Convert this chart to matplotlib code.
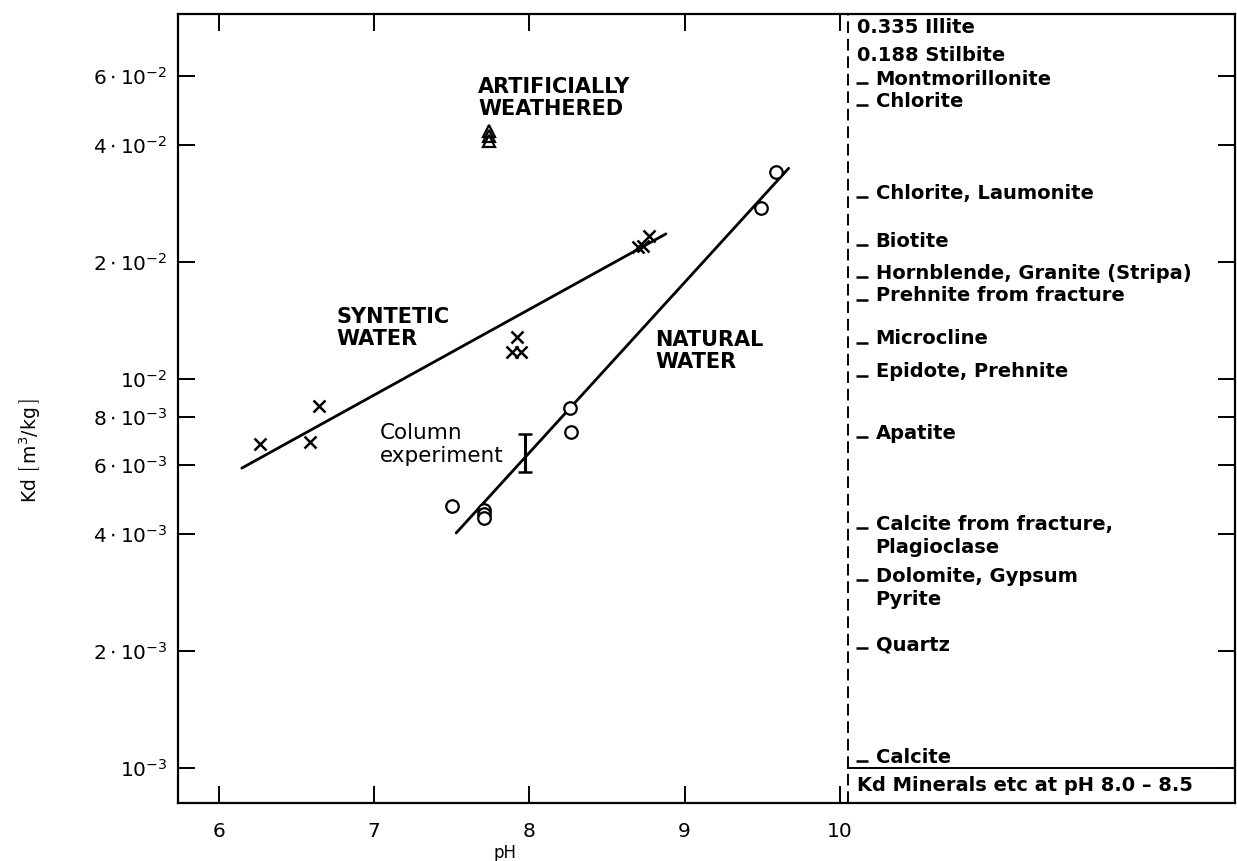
import numpy as np
import matplotlib
matplotlib.use("Agg")
from matplotlib import pyplot as plt

plt.rcParams["font.family"] = "DejaVu Sans"
plt.rcParams["mathtext.fontset"] = "dejavusans"

# Synthetic water (x markers)
syn_ph = [6.27, 6.59, 6.65, 7.92, 7.89, 7.95, 8.70, 8.73, 8.77]
syn_kd = [6.8e-3, 6.9e-3, 8.5e-3, 1.28e-2, 1.17e-2, 1.17e-2, 2.18e-2, 2.20e-2, 2.33e-2]
syn_fit_ph = [6.15, 8.88]
syn_fit_kd = [5.9e-3, 2.36e-2]

# Natural water (open circles)
nat_ph = [7.50, 7.71, 7.71, 7.71, 8.26, 8.27, 9.49, 9.59]
nat_kd = [4.72e-3, 4.6e-3, 4.5e-3, 4.4e-3, 8.4e-3, 7.3e-3, 2.75e-2, 3.40e-2]
nat_fit_ph = [7.53, 9.67]
nat_fit_kd = [4.02e-3, 3.48e-2]

# Artificially weathered (triangles)
art_ph = [7.74, 7.74, 7.74]
art_kd = [4.35e-2, 4.2e-2, 4.1e-2]

# Column experiment (range)
col_ph = 7.97
col_lo = 5.77e-3
col_hi = 7.23e-3

# Minerals at pH 8.0 - 8.5 (right panel)
mineral_names = ["Montmorillonite", "Chlorite", "Chlorite, Laumonite", "Biotite",
                 "Hornblende, Granite (Stripa)", "Prehnite from fracture",
                 "Microcline", "Epidote, Prehnite", "Apatite",
                 "Calcite from fracture,\nPlagioclase", "Dolomite, Gypsum\nPyrite",
                 "Quartz", "Calcite"]
mineral_kd = [0.0577, 0.0506, 0.0294, 0.0221, 0.0183, 0.0160, 0.0124, 0.0102,
              0.0071, 0.00414, 0.00304, 0.00203, 0.00104]
offchart_labels = ["0.335 Illite", "0.188 Stilbite"]

yticks = [1e-3, 2e-3, 4e-3, 6e-3, 8e-3, 1e-2, 2e-2, 4e-2, 6e-2]
ytick_labels = [r"$10^{-3}$", r"$2\cdot10^{-3}$", r"$4\cdot10^{-3}$", r"$6\cdot10^{-3}$",
                r"$8\cdot10^{-3}$", r"$10^{-2}$", r"$2\cdot10^{-2}$", r"$4\cdot10^{-2}$",
                r"$6\cdot10^{-2}$"]
xticks = [6, 7, 8, 9, 10]

PANEL_X = 10.05  # dashed separator


def main():
    fig = plt.figure(figsize=(12.37, 8.61), dpi=100)
    ax = fig.add_axes([0.144, 0.0674, 0.854, 0.9163])
    ax.set_yscale("log")
    ax.set_xlim(5.74, 12.54)
    ax.set_ylim(8.13e-4, 0.0867)

    # fits and data
    ax.plot(syn_fit_ph, syn_fit_kd, color="black", lw=2.0, solid_capstyle="round")
    ax.plot(nat_fit_ph, nat_fit_kd, color="black", lw=2.0, solid_capstyle="round")
    ax.plot(syn_ph, syn_kd, "x", color="black", ms=8, mew=1.8)
    ax.plot(nat_ph, nat_kd, "o", mfc="white", mec="black", ms=9, mew=1.6)
    ax.plot(art_ph, art_kd, "^", mfc="none", mec="black", ms=8, mew=1.6)
    col_mid = np.sqrt(col_lo * col_hi)
    ax.errorbar([col_ph], [col_mid], yerr=[[col_mid - col_lo], [col_hi - col_mid]],
                fmt="none", ecolor="black", elinewidth=2.2, capsize=5, capthick=1.8)

    # labels inside plot
    big = dict(fontsize=15, fontweight="bold", va="top", ha="left", linespacing=1.15)
    ax.text(7.67, 0.0597, "ARTIFICIALLY\nWEATHERED", **big)
    ax.text(6.76, 0.01531, "SYNTETIC\nWATER", **big)
    ax.text(8.81, 0.01337, "NATURAL\nWATER", **big)
    ax.text(7.04, 7.7e-3, "Column\nexperiment", fontsize=15.5, va="top", ha="left",
            linespacing=1.2)

    # right panel
    ax.axvline(PANEL_X, color="black", lw=1.4, ls=(0, (6, 3)))
    ax.plot([PANEL_X, ax.get_xlim()[1]], [1.0e-3, 1.0e-3], color="black", lw=1.4)
    ax.text(10.11, 9.0e-4, "Kd Minerals etc at pH 8.0 \u2013 8.5", fontsize=14,
            fontweight="bold", va="center", ha="left")
    ax.plot([10.14] * len(mineral_kd), mineral_kd, "_", color="black", ms=8, mew=1.8)
    for name, kd in zip(mineral_names, mineral_kd):
        ax.annotate(name, xy=(10.23, kd), xytext=(0, 9.5), textcoords="offset points",
                    va="top", ha="left", fontsize=14, fontweight="bold",
                    linespacing=1.3)
    for i, lab in enumerate(offchart_labels):
        ax.text(10.11, 0.9835 - i * 0.0355, lab, transform=ax.get_xaxis_transform(),
                va="center", ha="left", fontsize=14, fontweight="bold")

    # axes styling
    ax.set_yticks(yticks)
    ax.set_yticklabels(ytick_labels)
    ax.minorticks_off()
    ax.set_xticks(xticks)
    ax.tick_params(axis="both", which="major", direction="in", length=12, width=1.4,
                   labelsize=14.5, top=True, right=True)
    ax.tick_params(axis="y", pad=8)
    ax.tick_params(axis="x", pad=14)
    for s in ax.spines.values():
        s.set_linewidth(1.6)

    ax.set_xlabel("pH", fontsize=12)
    ax.xaxis.set_label_coords(0.309, -0.052)
    ax.set_ylabel(r"Kd $\left[\,\mathrm{m^3/kg}\,\right]$", fontsize=13.5)
    ax.yaxis.set_label_coords(-0.128, 0.447)

    fig.savefig("out.png", dpi=100)


if __name__ == "__main__":
    main()
